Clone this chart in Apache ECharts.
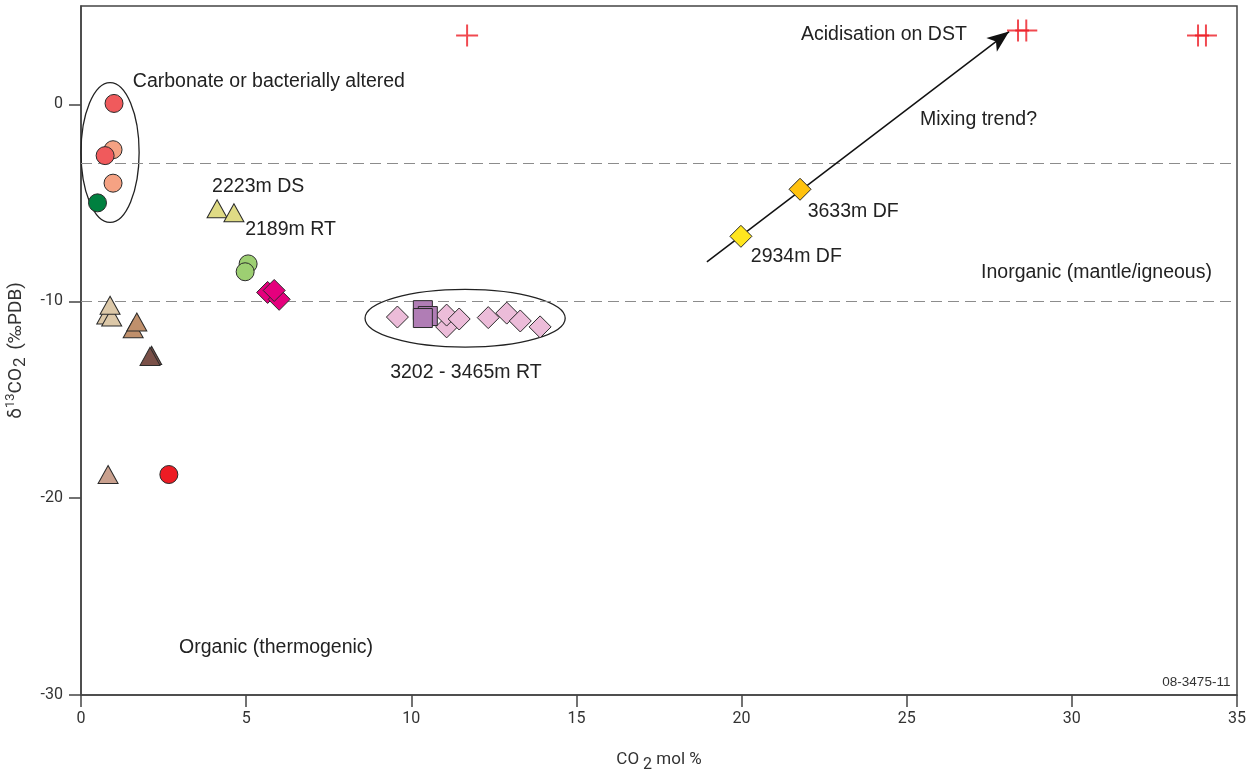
<!DOCTYPE html>
<html><head><meta charset="utf-8">
<script src="https://cdn.jsdelivr.net/npm/echarts@6/dist/echarts.min.js"></script>
<style>html,body{margin:0;padding:0;background:#fff}#c{width:1248px;height:771px}</style>
</head><body><div id="c"></div>
<script>
// ---- data (CO2 mol %, d13C CO2 permil PDB) ----
var redCircles = [[1.0, 0.05], [0.73, -2.6]];
var salmonCircles = [[0.97, -2.3], [0.97, -4.0]];
var greenCircles = [[0.5, -5.0]];
var lightGreenCircles = [[5.06, -8.1], [4.97, -8.5]];
var brightRedCircles = [[2.66, -18.8]];
var yellowTriangles = [[4.12, -5.3], [4.63, -5.5]];
var beigeTriangles = [[0.78, -10.7], [0.93, -10.8], [0.88, -10.2]];
var tanTriangles = [[1.58, -11.4], [1.69, -11.05]];
var brownTriangles = [[2.14, -12.75], [2.09, -12.8]];
var lightTanTriangles = [[0.82, -18.8]];
var magentaDiamonds = [[5.65, -9.55], [6.0, -9.9], [5.85, -9.45]];
var pinkDiamonds = [[9.58, -10.8], [11.07, -11.3], [11.07, -10.7], [11.45, -10.9], [12.33, -10.83], [12.89, -10.6], [13.3, -11.0], [13.9, -11.3]];
var purpleSquares = [[10.35, -10.45], [10.5, -10.75], [10.35, -10.85]];
var goldDiamonds = [[21.77, -4.31]];
var yellowDiamonds = [[19.98, -6.7]];
var redCrosses = [[11.69, 3.5], [28.37, 3.76], [28.62, 3.76], [33.82, 3.5], [34.06, 3.5]];
var mixingArrow = [[18.95, -8.0], [28.1, 3.7]];
var guideLines = [-3, -10];
// ellipses: [centerX, centerY, radiusX, radiusY]
var ellipses = [[0.88, -2.44, 0.88, 3.55], [11.63, -10.86, 3.03, 1.47]];
// annotations: [x, y, text, align]
var annotations = [
  [1.57, 1.17, 'Carbonate or bacterially altered', 'left'],
  [3.97, -4.2, '2223m DS', 'left'],
  [4.97, -6.35, '2189m RT', 'left'],
  [9.36, -13.6, '3202 - 3465m RT', 'left'],
  [2.97, -27.6, 'Organic (thermogenic)', 'left'],
  [27.25, -8.53, 'Inorganic (mantle/igneous)', 'left'],
  [25.4, -0.76, 'Mixing trend?', 'left'],
  [21.8, 3.55, 'Acidisation on DST', 'left'],
  [22.0, -5.43, '3633m DF', 'left'],
  [20.28, -7.72, '2934m DF', 'left']
];
var figureId = [[34.8, -29.35, '08-3475-11']];
var xTicks = [0, 5, 10, 15, 20, 25, 30, 35];
var yTicks = [-30, -20, -10, 0];

var chart = echarts.init(document.getElementById('c'));
var TXT = 'Liberation Sans, Arial, sans-serif';
var AX = 'Roboto, sans-serif';
var crossPath = 'path://M0,9.1H20V10.9H0Z M9.1,0H10.9V20H9.1Z';

function sc(data, symbol, size, color) {
  return {
    type: 'scatter', data: data, symbol: symbol, symbolSize: size,
    itemStyle: { color: color, borderColor: '#2a2a2a', borderWidth: 1, opacity: 1 },
    emphasis: { disabled: true }, z: 5
  };
}

var series = [
  {
    type: 'custom', data: ellipses, z: 3, silent: true,
    renderItem: function (params, api) {
      var c = api.coord([api.value(0), api.value(1)]);
      var s = api.size([api.value(2), api.value(3)]);
      return { type: 'ellipse', shape: { cx: c[0], cy: c[1], rx: s[0], ry: s[1] },
        style: { fill: 'none', stroke: '#222', lineWidth: 1.3 } };
    }
  },
  {
    type: 'scatter', data: [], silent: true,
    markLine: {
      silent: true, symbol: ['none', 'none'], label: { show: false },
      lineStyle: { color: '#8c8c8c', type: [11, 6], width: 1.2 },
      data: guideLines.map(function (v) { return { yAxis: v }; })
    }
  },
  {
    type: 'scatter', data: [], silent: true, z: 4,
    markLine: {
      silent: true, symbol: ['none', 'arrow'], symbolSize: [13, 22], label: { show: false },
      lineStyle: { color: '#111', type: 'solid', width: 1.5 },
      data: [[{ coord: mixingArrow[0] }, { coord: mixingArrow[1] }]]
    }
  },
  sc(salmonCircles, 'circle', 18, '#f5a283'),
  sc(redCircles, 'circle', 18, '#f05a5c'),
  sc(greenCircles, 'circle', 18, '#00803f'),
  sc(lightGreenCircles, 'circle', 18, '#9dcf72'),
  sc(brightRedCircles, 'circle', 18, '#ed1c24'),
  sc(yellowTriangles, 'triangle', [20, 18], '#dfdb85'),
  sc(beigeTriangles, 'triangle', [20, 18], '#dcc8a8'),
  sc(tanTriangles, 'triangle', [20, 18], '#c0906c'),
  sc(brownTriangles, 'triangle', [20, 18], '#7a5048'),
  sc(lightTanTriangles, 'triangle', [20, 18], '#c9a08e'),
  sc(magentaDiamonds, 'diamond', 22, '#e5007d'),
  sc(pinkDiamonds, 'diamond', 22, '#ecbcd9'),
  sc(purpleSquares, 'rect', 19, '#b07db5'),
  sc(goldDiamonds, 'diamond', 22, '#ffc20e'),
  sc(yellowDiamonds, 'diamond', 22, '#ffe61e'),
  {
    type: 'scatter', data: redCrosses, symbol: crossPath, symbolSize: 22,
    itemStyle: { color: '#ec1c24' }, emphasis: { disabled: true }, z: 6
  },
  {
    type: 'custom', data: annotations, z: 7, silent: true,
    renderItem: function (params, api) {
      var d = annotations[params.dataIndex];
      var c = api.coord([d[0], d[1]]);
      return { type: 'text', x: c[0], y: c[1],
        style: { text: d[2], font: '19.5px ' + TXT, fill: '#222', align: d[3], verticalAlign: 'middle' } };
    }
  },
  {
    type: 'custom', data: figureId, z: 7, silent: true,
    renderItem: function (params, api) {
      var d = figureId[params.dataIndex];
      var c = api.coord([d[0], d[1]]);
      return { type: 'text', x: c[0], y: c[1],
        style: { text: d[2], font: '13.5px ' + TXT, fill: '#333', align: 'right', verticalAlign: 'middle' } };
    }
  }
];

chart.setOption({
  animation: false,
  backgroundColor: '#fff',
  grid: { left: 81, right: 11, top: 6, bottom: 76, outerBoundsMode: 'none', containLabel: false,
    show: true, borderColor: '#444', borderWidth: 1.5, backgroundColor: 'transparent' },
  xAxis: {
    type: 'value', min: 0, max: 35, interval: 5,
    name: '{a|CO}{s|2}{a| mol %}', nameLocation: 'middle', nameGap: 52,
    nameTextStyle: { rich: {
      a: { fontFamily: AX, fontSize: 17, color: '#333' },
      s: { fontFamily: AX, fontSize: 16, color: '#333', padding: [10, 0, 0, 4] }
    } },
    axisLine: { show: true, onZero: false, lineStyle: { color: '#444', width: 1.5 } },
    axisTick: { show: true, length: 12, inside: false, lineStyle: { color: '#444', width: 1.5 }, customValues: xTicks },
    axisLabel: { fontFamily: AX, fontSize: 16, color: '#333', margin: 16, customValues: xTicks },
    splitLine: { show: false }
  },
  yAxis: {
    type: 'value', min: -30, max: 5, interval: 10,
    name: '{a|δ}{p|13}{a|CO}{s|2}{a| (‰PDB)}', nameLocation: 'middle', nameGap: 48, nameRotate: 90,
    nameTextStyle: { rich: {
      a: { fontFamily: AX, fontSize: 19, color: '#333' },
      p: { fontFamily: AX, fontSize: 13, color: '#333', padding: [0, 0, 11, 0] },
      s: { fontFamily: AX, fontSize: 17, color: '#333', padding: [10, 3, 0, 1] }
    } },
    axisLine: { show: true, onZero: false, lineStyle: { color: '#444', width: 1.5 } },
    axisTick: { show: true, length: 12, inside: false, lineStyle: { color: '#444', width: 1.5 }, customValues: yTicks },
    axisLabel: { fontFamily: AX, fontSize: 16, color: '#333', margin: 18, customValues: yTicks },
    splitLine: { show: false }
  },
  series: series
});
</script>
</body></html>
